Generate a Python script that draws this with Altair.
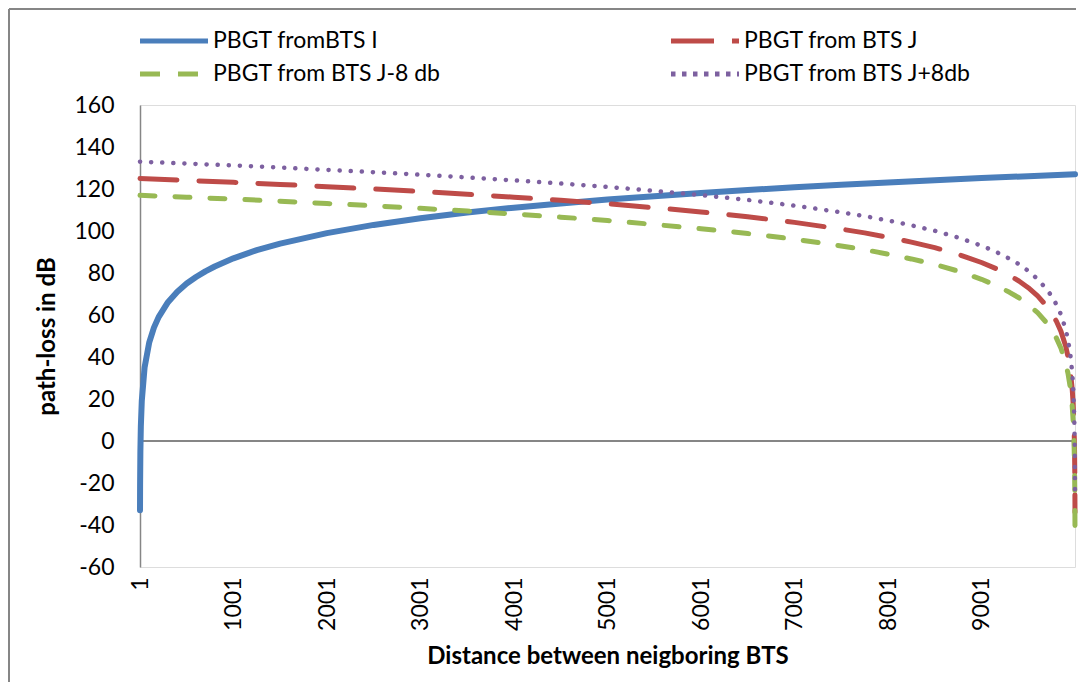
import altair as alt
import pandas as pd

series_names = ["PBGT fromBTS I", "PBGT from BTS J", "PBGT from BTS J-8 db", "PBGT from BTS J+8db"]
legend_order = ["PBGT fromBTS I", "PBGT from BTS J-8 db", "PBGT from BTS J", "PBGT from BTS J+8db"]
colors = ["#4A7EBB", "#BE4B48", "#98B954", "#7D60A0"]

dist_i = [1, 2, 5, 10, 20, 50, 100, 150, 200, 300, 400, 500, 600, 700, 800, 1000, 1250, 1500,
          2000, 2500, 3000, 3500, 4000, 4500, 5000, 5500, 6000, 6500, 7000, 7500, 8000, 8500,
          9000, 9500, 10000]
pbgt_i = [-33, -21, -5, 7, 19, 35, 47, 54.0, 59, 66.1, 71.1, 75, 78.1, 80.8, 83.1, 87, 90.9, 94,
          99, 102.9, 106.1, 108.8, 111.1, 113.1, 115, 116.6, 118.1, 119.5, 120.8, 122, 123.1, 124.2,
          125.2, 126.1, 127]

dist_j = [1, 500, 1000, 1500, 2000, 2500, 3000, 3500, 4000, 4500, 5000, 5500, 6000, 6500, 7000,
          7500, 7750, 8000, 8250, 8500, 8750, 9000, 9150, 9300, 9400, 9500, 9600, 9700, 9750,
          9800, 9850, 9900, 9925, 9950, 9970, 9980, 9990, 9995, 9998, 10000]
pbgt_j = [125.0, 124.1, 123.2, 122.2, 121.1, 120.0, 118.8, 117.5, 116.1, 114.6, 113.0, 111.1,
          109.1, 106.8, 104.1, 100.9, 99.1, 97.0, 94.7, 92.1, 88.9, 85.0, 82.2, 78.8, 76.2, 73.0,
          69.1, 64.1, 61.0, 57.1, 52.2, 45.2, 40.2, 33.3, 24.7, 17.9, 6.7, -3.9, -15.9, -34]
pbgt_j_minus8 = [117.0, 116.1, 115.2, 114.2, 113.1, 112.0, 110.8, 109.5, 108.1, 106.6, 105.0,
                 103.1, 101.1, 98.8, 96.1, 92.9, 91.1, 89.0, 86.7, 84.1, 80.9, 77.0, 74.2, 70.8,
                 68.2, 65.0, 61.1, 56.1, 53.0, 49.1, 44.2, 37.2, 32.2, 25.3, 16.7, 9.9, -1.3,
                 -11.9, -23.9, -42]
pbgt_j_plus8 = [133.0, 132.1, 131.2, 130.2, 129.1, 128.0, 126.8, 125.5, 124.1, 122.6, 121.0,
                119.1, 117.1, 114.8, 112.1, 108.9, 107.1, 105.0, 102.7, 100.1, 96.9, 93.0, 90.2,
                86.8, 84.2, 81.0, 77.1, 72.1, 69.0, 65.1, 60.2, 53.2, 48.2, 41.3, 32.7, 25.9,
                14.7, 4.1, -7.9, -26]

x_ticks = [1, 1001, 2001, 3001, 4001, 5001, 6001, 7001, 8001, 9001]
y_ticks = [-60, -40, -20, 0, 20, 40, 60, 80, 100, 120, 140, 160]

rows = []
for d, v in zip(dist_i, pbgt_i):
    rows.append({"series": series_names[0], "d": d, "v": v})
for name, vals in zip(series_names[1:], [pbgt_j, pbgt_j_minus8, pbgt_j_plus8]):
    for d, v in zip(dist_j, vals):
        rows.append({"series": name, "d": d, "v": v})
df = pd.DataFrame(rows)

W, H = 935, 462
FONT = "Lato"
GRAY = "#868686"

# line styles in the plot (round caps)
plot_dash = [None, [37, 22], [15, 20], [0.1, 11]]
plot_width = [6, 5, 5, 4.5]
# legend key styles (legend keys are drawn with butt caps)
legend_dash = [[1, 0], [43, 18], [20, 18], [4.5, 6.5]]

xscale = alt.Scale(domain=[1, 10000], nice=False, zero=False)
yscale = alt.Scale(domain=[-60, 160], nice=False)
cscale = alt.Scale(domain=series_names, range=colors)
dscale = alt.Scale(domain=series_names, range=legend_dash)

legend = alt.Legend(
    orient="none", legendX=20, legendY=-78, columns=2, columnPadding=218,
    rowPadding=7, symbolType="M-3,0H3", symbolSize=514, symbolStrokeWidth=5,
    labelFont=FONT, labelFontSize=23, labelColor="black", labelOffset=25,
    title=None, padding=0, labelLimit=400, values=legend_order,
)

x_enc = alt.X("d:Q", scale=xscale,
              axis=alt.Axis(values=x_ticks, labelExpr="datum.value + ''", labelAngle=270,
                            domain=False, ticks=False, grid=False, labelPadding=10,
                            labelFont=FONT, labelFontSize=23, labelColor="black",
                            title="Distance between neigboring BTS",
                            titleFont=FONT, titleFontSize=24, titleFontWeight="bold",
                            titleColor="black", titlePadding=14, labelFlush=False,
                            labelOverlap=False))
y_enc = alt.Y("v:Q", scale=yscale,
              axis=alt.Axis(values=y_ticks, labelExpr="datum.value + ''", domain=True,
                            domainColor=GRAY, domainWidth=1.5,
                            ticks=False, grid=False, labelPadding=26, labelFont=FONT,
                            labelFontSize=23, labelColor="black", title="path-loss in dB",
                            titleFont=FONT, titleFontSize=24, titleFontWeight="bold",
                            titleColor="black", titlePadding=14, labelFlush=False,
                            labelOverlap=False))

base = alt.Chart(df)

zero = base.mark_rule(color=GRAY, strokeWidth=1.5).encode(
    y=alt.datum(0, scale=yscale), x=alt.value(0), x2=alt.value(W)
)
frame_left = base.mark_rule(color=GRAY, strokeWidth=2).encode(
    x=alt.value(-131), y=alt.value(-96), y2=alt.value(577)
)
frame_top = base.mark_rule(color=GRAY, strokeWidth=2).encode(
    x=alt.value(-131), x2=alt.value(936), y=alt.value(-96)
)

series_layers = []
for name, dash, w in zip(series_names, plot_dash, plot_width):
    mk = dict(strokeCap="round", strokeJoin="round", strokeWidth=w)
    if dash is not None:
        mk["strokeDash"] = dash
    series_layers.append(
        base.transform_filter(alt.datum.series == name).mark_line(**mk).encode(
            x=x_enc, y=y_enc, color=alt.Color("series:N", scale=cscale, legend=legend)
        )
    )

# legend-only layer: a single point per series draws no visible line
legend_layer = base.transform_filter(alt.datum.d == 1).mark_line().encode(
    x=x_enc, y=y_enc,
    color=alt.Color("series:N", scale=cscale, legend=legend),
    strokeDash=alt.StrokeDash("series:N", scale=dscale, legend=legend),
)

chart = alt.layer(frame_left, frame_top, zero, *series_layers, legend_layer).properties(
    width=W, height=H, padding=0
).configure_view(stroke=None).configure(font=FONT)

chart.save("out.html", embed_options={"renderer": "svg", "actions": False})
